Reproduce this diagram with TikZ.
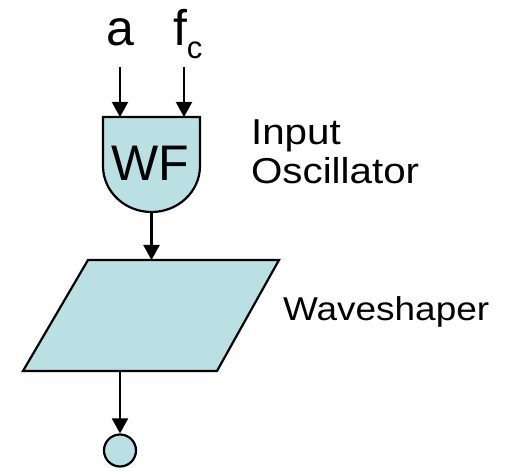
\documentclass[tikz,border=0pt]{standalone}
\usepackage{fontspec}
\setmainfont{Liberation Sans}[FakeStretch=1.12]
\newfontfamily\bigsans{Liberation Sans}
\usetikzlibrary{arrows.meta}
\definecolor{wfblue}{HTML}{BBE0E3}

\begin{document}
\begin{tikzpicture}[x=1pt, y=-1pt, line width=2.2pt,
    arr/.style={-{Triangle[width=16pt,length=15pt]}},
    blk/.style={draw, fill=wfblue},
    bigtxt/.style={inner sep=0, font=\bigsans\fontsize{50}{60}\selectfont}]
    \useasboundingbox (0,0) rectangle (512,468);

    % Inputs
    \node[bigtxt, anchor=base]      (a)  at (120,46) {a};
    \node[bigtxt, anchor=base west] (fc) at (172,46) {f\raisebox{-13pt}{\fontsize{31}{31}\selectfont c}};
    \coordinate (ina)  at (120,67);
    \coordinate (infc) at (184,67);

    % Oscillator
    \draw[blk] (103,117) -- (103,166) arc[start angle=180, end angle=0, x radius=48.5, y radius=46] -- (200,117) -- cycle;
    \node[bigtxt] (wf) at (150,163) {WF};
    \coordinate (osca)   at (120,117);
    \coordinate (oscfc)  at (184,117);
    \coordinate (oscout) at (151.5,212);

    % Waveshaper
    \draw[blk] (88,260) -- (279,260) -- (217,371) -- (23,371) -- cycle;
    \coordinate (wsin)  at (151.5,260);
    \coordinate (wsout) at (120,371);

    % Output
    \node[circle, blk, minimum size=32pt, inner sep=0] (out) at (120,450.5) {};

    % Labels
    \node[anchor=base west, inner sep=0, font=\fontsize{36}{40}\selectfont] (input) at (250,145) {Input};
    \node[anchor=base west, inner sep=0, font=\fontsize{36}{40}\selectfont] (oscl)  at (250,184) {Oscillator};
    \node[anchor=base west, inner sep=0, font=\fontsize{33}{36}\selectfont] (wsl)   at (282,320) {Waveshaper};

    % Connectors
    \draw[arr] (ina) -- (osca);
    \draw[arr] (infc) -- (oscfc);
    \draw[arr] (oscout) -- (wsin);
    \draw[arr] (wsout) -- (out);
\end{tikzpicture}
\end{document}
